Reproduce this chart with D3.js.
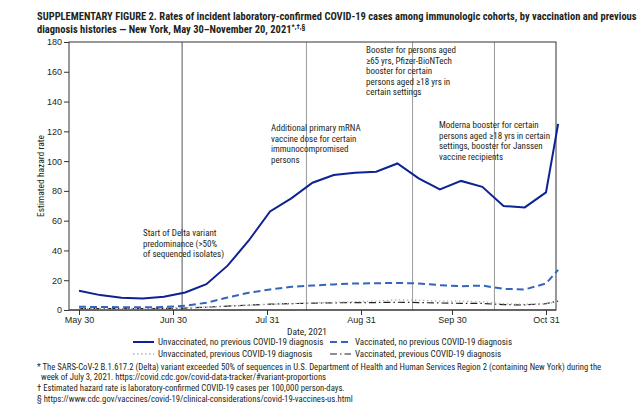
<!DOCTYPE html>
<html>
<head>
<meta charset="utf-8">
<script src="https://cdn.jsdelivr.net/npm/d3@7"></script>
<style>
  body { margin: 0; background: #fff; }
  svg { font-family: "Liberation Sans Narrow", "Roboto Condensed", "DejaVu Sans Condensed", Roboto, sans-serif; fill: #231f20; }
</style>
</head>
<body>
<svg id="svg" width="640" height="412"></svg>
<script>
const width = 640;
const height = 412;

const frame = { left: 69, top: 42, right: 556, bottom: 310 };

// weekly points (last one is a partial week)
const dates = [
  '2021-05-30', '2021-06-06', '2021-06-13', '2021-06-20', '2021-06-27', '2021-07-04',
  '2021-07-11', '2021-07-18', '2021-07-25', '2021-08-01', '2021-08-08', '2021-08-15',
  '2021-08-22', '2021-08-29', '2021-09-05', '2021-09-12', '2021-09-19', '2021-09-26',
  '2021-10-03', '2021-10-10', '2021-10-17', '2021-10-24', '2021-10-31', '2021-11-04'
];

const unvacNoPrev = [12.9, 10, 8.2, 7.8, 8.9, 11.8, 17.3, 29.8, 46.7, 66.2, 75, 85.5,
  90.7, 92.2, 92.9, 98.4, 88.4, 81, 86.7, 82.7, 69.8, 68.9, 79, 125];
const vacNoPrev = [2.2, 2, 1.9, 1.8, 2, 2.9, 4.9, 8.4, 11.6, 13.8, 15.6, 16.4,
  17.2, 17.8, 18, 18.2, 17.8, 16.7, 16, 16.4, 14.2, 13.8, 17.8, 27];
const unvacPrev = [1.2, 1, 1, 1, 1.2, 1.6, 2, 2.6, 3.2, 3.8, 4.3, 4.8,
  5.2, 5.6, 6, 6.8, 6.5, 6, 6, 5.5, 4.2, 3.8, 4.3, 5.2];
const vacPrev = [1, 1, 1, 1, 1, 1.3, 1.9, 2.6, 3.3, 3.9, 4.3, 4.6,
  4.8, 5, 5, 5.2, 5, 4.7, 4.5, 4.4, 3.6, 3.4, 4.3, 6];

const xTicks = ['2021-05-30', '2021-06-30', '2021-07-31', '2021-08-31', '2021-09-30', '2021-10-31'];
const yTicks = [0, 20, 40, 60, 80, 100, 120, 140, 160, 180];

const events = [
  { date: '2021-07-03', color: '#555', lines: ['Start of Delta variant', 'predominance (>50%', 'of sequenced isolates)'], x: 143, y: 236 },
  { date: '2021-08-13', color: '#9a9a9a', lines: ['Additional primary mRNA', 'vaccine dose for certain', 'immunocompromised', 'persons'], x: 271, y: 131 },
  { date: '2021-09-17', color: '#9a9a9a', lines: ['Booster for persons aged', '\u226565 yrs, Pfizer-BioNTech', 'booster for certain', 'persons aged \u226518 yrs in', 'certain settings'], x: 366, y: 53 },
  { date: '2021-10-14', color: '#9a9a9a', lines: ['Moderna booster for certain', 'persons aged \u226518 yrs in certain', 'settings, booster for Janssen', 'vaccine recipients'], x: 439, y: 128 }
];

const series = [
  { name: 'Unvaccinated, no previous COVID-19 diagnosis', values: unvacNoPrev, color: '#0d2391', width: 2, dash: null },
  { name: 'Vaccinated, no previous COVID-19 diagnosis', values: vacNoPrev, color: '#3366bb', width: 2, dash: '7,4' },
  { name: 'Unvaccinated, previous COVID-19 diagnosis', values: unvacPrev, color: '#aab3c6', width: 1.3, dash: '1.5,2.5' },
  { name: 'Vaccinated, previous COVID-19 diagnosis', values: vacPrev, color: '#231f20', width: 1.2, dash: '7,3,1.5,3' }
];

const parse = d3.timeParse('%Y-%m-%d');
const svg = d3.select('#svg');

const xScale = d3.scaleTime()
  .domain([parse('2021-05-30'), parse('2021-10-31')])
  .range([79, 546]);

const yScale = d3.scaleLinear()
  .domain([0, 180])
  .range([frame.bottom, frame.top]);

// title
const title = svg.append('text').attr('font-size', 10.5).attr('font-weight', 700);
title.append('tspan').attr('x', 37).attr('y', 20)
  .text('SUPPLEMENTARY FIGURE 2. Rates of incident laboratory-confirmed COVID-19 cases among immunologic cohorts, by vaccination and previous');
title.append('tspan').attr('x', 37).attr('y', 33)
  .text('diagnosis histories \u2014 New York, May 30\u2013November 20, 2021');
title.append('tspan').attr('font-size', 7).attr('dy', -4).text('*,\u2020,\u00a7');

// event lines
svg.selectAll('.event-line')
  .data(events)
  .enter()
  .append('line')
  .attr('x1', d => xScale(parse(d.date)))
  .attr('x2', d => xScale(parse(d.date)))
  .attr('y1', frame.top)
  .attr('y2', frame.bottom)
  .attr('stroke', d => d.color)
  .attr('stroke-width', 1);

// frame
svg.append('rect')
  .attr('x', frame.left)
  .attr('y', frame.top)
  .attr('width', frame.right - frame.left)
  .attr('height', frame.bottom - frame.top)
  .attr('fill', 'none')
  .attr('stroke', '#333')
  .attr('stroke-width', 1);

// axes
const xAxis = d3.axisBottom(xScale)
  .tickValues(xTicks.map(parse))
  .tickFormat(d3.timeFormat('%b %-d'))
  .tickSize(5)
  .tickPadding(2);

const yAxis = d3.axisLeft(yScale)
  .tickValues(yTicks)
  .tickSize(5)
  .tickPadding(2);

const xg = svg.append('g')
  .attr('class', 'x-axis-group')
  .attr('transform', 'translate(0,' + frame.bottom + ')')
  .call(xAxis);

const yg = svg.append('g')
  .attr('class', 'y-axis-group')
  .attr('transform', 'translate(' + frame.left + ',0)')
  .call(yAxis);

[xg, yg].forEach(g => {
  g.select('.domain').remove();
  g.selectAll('line').attr('stroke', '#333');
  g.selectAll('text').attr('font-family', null).attr('font-size', 9).attr('fill', '#231f20');
});

svg.append('line')
  .attr('x1', frame.left).attr('x2', frame.right)
  .attr('y1', frame.bottom).attr('y2', frame.bottom)
  .attr('stroke', '#333');

svg.append('text')
  .attr('transform', 'translate(44,176) rotate(-90)')
  .attr('text-anchor', 'middle')
  .attr('font-size', 9.5)
  .text('Estimated hazard rate');

svg.append('text')
  .attr('x', 307)
  .attr('y', 335)
  .attr('text-anchor', 'middle')
  .attr('font-size', 9.5)
  .text('Date, 2021');

// annotations
events.forEach(ev => {
  const t = svg.append('text').attr('font-size', 9);
  ev.lines.forEach((l, i) => {
    t.append('tspan').attr('x', ev.x).attr('y', ev.y + i * 10.6).text(l);
  });
});

// series lines
const line = d3.line()
  .x((d, i) => xScale(parse(dates[i])))
  .y(d => yScale(d));

svg.selectAll('.series')
  .data(series.slice().reverse())
  .enter()
  .append('path')
  .attr('d', d => line(d.values))
  .attr('fill', 'none')
  .attr('stroke', d => d.color)
  .attr('stroke-width', d => d.width)
  .attr('stroke-dasharray', d => d.dash);

// legend
const legendPos = [[133, 345], [330, 345], [133, 357], [330, 357]];
series.forEach((s, i) => {
  const [lx, ly] = legendPos[i];
  svg.append('line')
    .attr('x1', lx).attr('x2', lx + 21)
    .attr('y1', ly - 3).attr('y2', ly - 3)
    .attr('stroke', s.color)
    .attr('stroke-width', s.width)
    .attr('stroke-dasharray', s.dash);
  svg.append('text')
    .attr('x', lx + 25)
    .attr('y', ly)
    .attr('font-size', 9)
    .text(s.name);
});

// footnotes
const notes = [
  [37, 370, '* The SARS-CoV-2 B.1.617.2 (Delta) variant exceeded 50% of sequences in U.S. Department of Health and Human Services Region 2 (containing New York) during the'],
  [41, 380, 'week of July 3, 2021. https://covid.cdc.gov/covid-data-tracker/#variant-proportions'],
  [37, 391, '\u2020 Estimated hazard rate is laboratory-confirmed COVID-19 cases per 100,000 person-days.'],
  [37, 402, '\u00a7 https://www.cdc.gov/vaccines/covid-19/clinical-considerations/covid-19-vaccines-us.html']
];
svg.selectAll('.note')
  .data(notes)
  .enter()
  .append('text')
  .attr('x', d => d[0])
  .attr('y', d => d[1])
  .attr('font-size', 8.7)
  .text(d => d[2]);
</script>
</body>
</html>
